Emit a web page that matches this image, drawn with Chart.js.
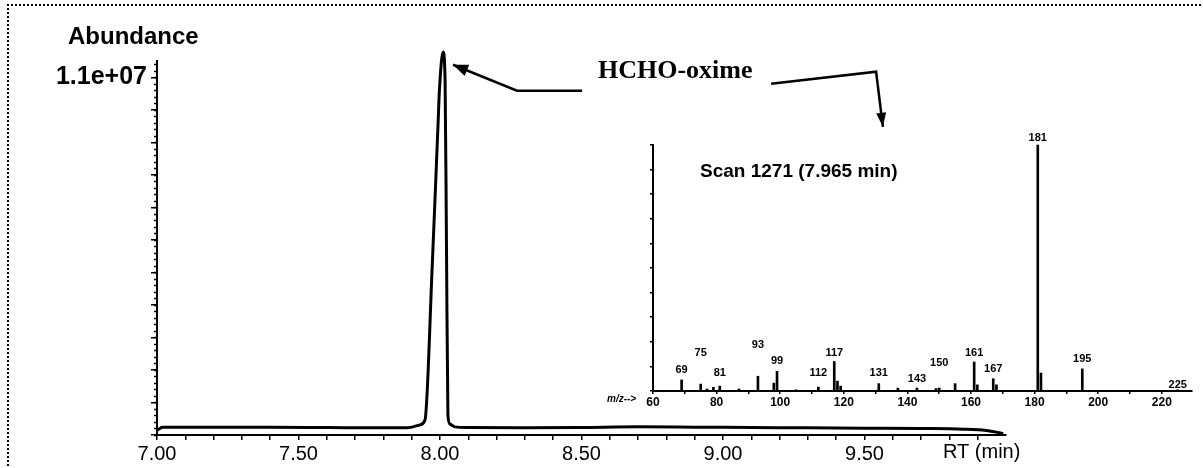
<!DOCTYPE html>
<html><head><meta charset="utf-8">
<script src="https://cdn.jsdelivr.net/npm/chart.js@4.4.1/dist/chart.umd.min.js"></script>
<style>
html,body{margin:0;padding:0;background:#fff;}
#wrap{position:relative;width:1203px;height:468px;overflow:hidden;background:#fff;}
#main{position:absolute;left:0;top:0;}
#inset{position:absolute;left:560px;top:120px;}
#frame{position:absolute;left:7px;top:4px;width:1192px;height:480px;border-left:2px dotted #000;border-top:2px dotted #000;pointer-events:none;}
</style></head>
<body><div id="wrap"><div id="frame"></div><canvas id="main" width="1203" height="468"></canvas><canvas id="inset" width="640" height="300"></canvas></div>
<script>
// ---------- Chromatogram (TIC) ----------
const rtMin = [7.00, 7.02, 7.20, 7.40, 7.60, 7.80, 7.88, 7.905, 7.929, 7.947, 7.972, 7.993, 7.998, 8.011, 8.018, 8.023, 8.028, 8.035, 8.053, 8.10, 8.30, 8.50, 8.70, 8.90, 9.10, 9.30, 9.50, 9.70, 9.85, 9.93, 9.97, 9.99];
const abundance = [0.14e6, 0.24e6, 0.24e6, 0.24e6, 0.23e6, 0.22e6, 0.22e6, 0.25e6, 0.31e6, 0.46e6, 5.08e6, 9.54e6, 10.6e6, 11.78e6, 10.9e6, 5.7e6, 0.6e6, 0.34e6, 0.25e6, 0.23e6, 0.22e6, 0.23e6, 0.25e6, 0.24e6, 0.23e6, 0.22e6, 0.21e6, 0.20e6, 0.18e6, 0.14e6, 0.08e6, 0.04e6];
const rtTickLabels = ['7.00', '7.50', '8.00', '8.50', '9.00', '9.50'];
const abundanceTickLabels = ['1.1e+07'];
const abundanceLabelValue = [1.1e7];

// ---------- Mass spectrum (inset) ----------
const mzValues    = [69, 75, 77, 79, 81, 87, 93, 98, 99, 105, 112, 117, 118, 119, 131, 137, 143, 149, 150, 155, 161, 162, 167, 168, 181, 182, 195, 225];
const mzIntensity = [4.5, 2.8, 0.8, 1.5, 2.0, 0.8, 6.0, 3.2, 8.0, 0.5, 1.6, 12.0, 4.0, 2.0, 3.0, 1.2, 1.2, 1.0, 1.2, 3.0, 11.8, 2.5, 5.0, 2.5, 100, 7.3, 9.0, 0.5];
const mzLabelled  = [69, 75, 81, 93, 99, 112, 117, 131, 143, 150, 161, 167, 181, 195, 225];
const mzTickLabels = ['60', '80', '100', '120', '140', '160', '180', '200', '220'];
const scanTitle = 'Scan 1271 (7.965 min)';
const compoundName = 'HCHO-oxime';

// label vertical lift above each labelled peak, in pixels (layout only)
const labelLift = [10, 31, 13, 31, 10, 14, 9, 11, 9, 25, 9, 10, 7, 10, 5];

const SANS = '"Liberation Sans", Arial, sans-serif';
const SERIF = '"Liberation Serif", "Times New Roman", serif';

function arrowPath(ctx, pts, head, half) {
  ctx.beginPath();
  ctx.moveTo(pts[0][0], pts[0][1]);
  for (let i = 1; i < pts.length; i++) ctx.lineTo(pts[i][0], pts[i][1]);
  ctx.stroke();
  const a = pts[pts.length - 2], b = pts[pts.length - 1];
  const ang = Math.atan2(b[1] - a[1], b[0] - a[0]);
  ctx.beginPath();
  ctx.moveTo(b[0], b[1]);
  ctx.lineTo(b[0] - head * Math.cos(ang) + half * Math.sin(ang), b[1] - head * Math.sin(ang) - half * Math.cos(ang));
  ctx.lineTo(b[0] - head * Math.cos(ang) - half * Math.sin(ang), b[1] - head * Math.sin(ang) + half * Math.cos(ang));
  ctx.closePath();
  ctx.fill();
}

// arrows in data coordinates (RT min, abundance)
const arrowToPeak = [[8.502, 10.585e6], [8.272, 10.585e6], [8.046, 11.385e6]];
const arrowToScan = [[9.170, 10.80e6], [9.541, 11.17e6], [9.565, 9.477e6]];

const mainDecor = {
  id: 'mainDecor',
  afterDraw(chart) {
    const { ctx, scales: { x, y } } = chart;
    ctx.save();
    ctx.strokeStyle = '#000'; ctx.fillStyle = '#000';
    // minor y ticks
    ctx.lineWidth = 1.5;
    for (let i = 0; i <= 57; i++) {
      const py = Math.round(y.getPixelForValue(i * 2e5)) + 0.5;
      ctx.beginPath(); ctx.moveTo(x.left - 3, py); ctx.lineTo(x.left, py); ctx.stroke();
    }
    ctx.textBaseline = 'middle'; ctx.textAlign = 'left';
    ctx.font = 'bold 24px ' + SANS;
    ctx.fillText('Abundance', 68, 37);
    ctx.font = '20px ' + SANS;
    ctx.fillText('RT (min)', 943, 452);
    ctx.font = 'bold 26px ' + SERIF;
    ctx.fillText(compoundName, 598, 71);
    ctx.lineWidth = 2.5;
    const toPx = p => [x.getPixelForValue(p[0]), y.getPixelForValue(p[1])];
    arrowPath(ctx, arrowToPeak.map(toPx), 15, 6);
    arrowPath(ctx, arrowToScan.map(toPx), 14, 5);
    ctx.restore();
  }
};

const rtTicks = [];
for (let i = 0; i <= 29; i++) rtTicks.push(Math.round((7 + i / 10) * 100) / 100);
const abTicks = [];
for (let i = 0; i <= 11; i++) abTicks.push(i * 1e6);

new Chart(document.getElementById('main'), {
  type: 'line',
  data: {
    datasets: [{
      data: rtMin.map((t, i) => ({ x: t, y: abundance[i] })),
      borderColor: '#000', borderWidth: 3, pointRadius: 0,
      cubicInterpolationMode: 'monotone', fill: false, clip: false
    }]
  },
  options: {
    responsive: false, animation: false, devicePixelRatio: 1,
    layout: { padding: { left: 0, top: 61, right: 197, bottom: 0 } },
    plugins: { legend: { display: false }, tooltip: { enabled: false } },
    scales: {
      x: {
        type: 'linear', min: 7, max: 10,
        afterBuildTicks: s => { s.ticks = rtTicks.map(v => ({ value: v })); },
        afterFit: s => { s.height = 33; },
        ticks: {
          autoSkip: false, maxRotation: 0, padding: 2, color: '#000',
          font: { family: SANS, size: 20 },
          callback: v => {
            const k = Math.round((v - 7) * 10);
            return (k % 5 === 0) ? rtTickLabels[k / 5] : '';
          }
        },
        grid: { drawOnChartArea: false, color: '#000', tickLength: 5, lineWidth: 1.5 },
        border: { color: '#000', width: 2 }
      },
      y: {
        min: 0, max: 1.15e7,
        afterBuildTicks: s => { s.ticks = abTicks.map(v => ({ value: v })); },
        afterFit: s => { s.width = 157; },
        ticks: {
          autoSkip: false, padding: 4, color: '#000',
          font: { family: SANS, size: 25, weight: 'bold' },
          callback: v => {
            const k = abundanceLabelValue.indexOf(v);
            return k >= 0 ? abundanceTickLabels[k] : '';
          }
        },
        grid: { drawOnChartArea: false, color: '#000', tickLength: 6, lineWidth: 1.5 },
        border: { color: '#000', width: 2 }
      }
    }
  },
  plugins: [mainDecor]
});

// ---------- Inset spectrum ----------
const insetDecor = {
  id: 'insetDecor',
  afterDraw(chart) {
    const { ctx, scales: { x, y } } = chart;
    ctx.save();
    ctx.fillStyle = '#000';
    ctx.textAlign = 'center'; ctx.textBaseline = 'middle';
    ctx.font = 'bold 11px ' + SANS;
    mzLabelled.forEach((mz, i) => {
      const k = mzValues.indexOf(mz);
      const px = x.getPixelForValue(mz);
      const py = y.getPixelForValue(mzIntensity[k]);
      ctx.fillText(String(mz), px, py - labelLift[i]);
    });
    ctx.textAlign = 'left';
    ctx.font = 'bold 19px ' + SANS;
    ctx.fillText(scanTitle, 140, 52);
    ctx.font = 'bold italic 10px ' + SANS;
    ctx.fillText('m/z-->', 47, 279);
    ctx.restore();
  }
};

const mzTicks = [];
for (let i = 0; i <= 16; i++) mzTicks.push(60 + i * 10);
const pctTicks = [];
for (let i = 0; i <= 10; i++) pctTicks.push(i * 10);

new Chart(document.getElementById('inset'), {
  type: 'bar',
  data: {
    datasets: [{
      data: mzValues.map((m, i) => ({ x: m, y: mzIntensity[i] })),
      backgroundColor: '#000', borderWidth: 0, barThickness: 2, clip: false
    }]
  },
  options: {
    responsive: false, animation: false, devicePixelRatio: 1,
    layout: { padding: { left: 0, top: 25, right: 8, bottom: 0 } },
    plugins: { legend: { display: false }, tooltip: { enabled: false } },
    scales: {
      x: {
        type: 'linear', min: 60, max: 229.5, offset: false,
        afterBuildTicks: s => { s.ticks = mzTicks.map(v => ({ value: v })); },
        afterFit: s => { s.height = 29; },
        ticks: {
          autoSkip: false, maxRotation: 0, padding: 1, color: '#000',
          font: { family: SANS, size: 12, weight: 'bold' },
          callback: v => ((v - 60) % 20 === 0) ? mzTickLabels[(v - 60) / 20] : ''
        },
        grid: { drawOnChartArea: false, color: '#000', tickLength: 3, lineWidth: 1.5, offset: false },
        border: { color: '#000', width: 2 }
      },
      y: {
        min: 0, max: 100,
        afterBuildTicks: s => { s.ticks = pctTicks.map(v => ({ value: v })); },
        afterFit: s => { s.width = 93; },
        ticks: { display: true, callback: () => '', padding: 0 },
        grid: { drawOnChartArea: false, color: '#000', tickLength: 3, lineWidth: 1.5 },
        border: { color: '#000', width: 2 }
      }
    }
  },
  plugins: [insetDecor]
});
</script>
</body></html>
